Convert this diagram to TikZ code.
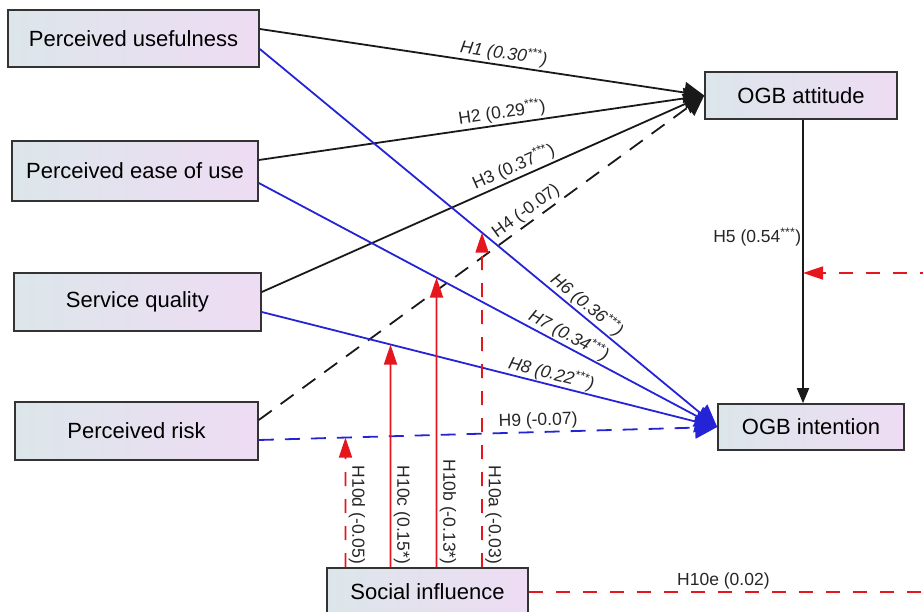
\documentclass[tikz,border=0pt]{standalone}
\usepackage{fontspec}
\setmainfont{Liberation Sans}
\usetikzlibrary{arrows.meta,calc}

\definecolor{pathblue}{HTML}{2424D6}
\definecolor{pathred}{HTML}{E5161D}
\definecolor{boxleft}{HTML}{DCE6EA}
\definecolor{boxright}{HTML}{EEDCF4}
\definecolor{boxline}{HTML}{333333}

\begin{document}
\begin{tikzpicture}[x=1pt,y=-1pt,
  construct/.style={draw=boxline, line width=1.6pt, left color=boxleft, right color=boxright,
    font=\fontsize{22}{26}\selectfont, inner sep=0pt},
  lbl/.style={font=\fontsize{17.5}{20}\selectfont, inner sep=2pt, text=black!85},
  lbli/.style={lbl, font=\fontsize{17.5}{20}\selectfont\itshape},
  vlbl/.style={lbl, rotate=-90, anchor=south, inner sep=3pt},
  blackpath/.style={draw=black!90, line width=1.8pt, -{Triangle[length=20pt,width=21pt]}},
  bluepath/.style={draw=pathblue, line width=1.8pt, -{Triangle[length=22pt,width=22pt]}},
  redpath/.style={draw=pathred, line width=1.8pt, -{Triangle[length=20pt,width=13pt]}},
  nsdash/.style={dash pattern=on 16pt off 11pt},
  bluedash/.style={dash pattern=on 15pt off 11pt},
  reddash/.style={dash pattern=on 14pt off 13pt}]

\useasboundingbox (0,0) rectangle (923,612);
\clip (0,0) rectangle (923,612);

% constructs
\node[construct, minimum width=251pt, minimum height=57pt] (pu)  at (133.5,38.5) {Perceived usefulness};
\node[construct, minimum width=246pt, minimum height=60pt] (peu) at (135,171)    {Perceived ease of use};
\node[construct, minimum width=247pt, minimum height=58pt] (sq)  at (137.5,302)  {Service quality};
\node[construct, minimum width=243pt, minimum height=58pt] (pr)  at (136.5,431)  {Perceived risk};
\node[construct, minimum width=192pt, minimum height=47pt] (att) at (801,95.5)   {OGB attitude};
\node[construct, minimum width=186pt, minimum height=46pt] (int) at (811,427)    {OGB intention};
\node[construct, minimum width=201pt, minimum height=48pt] (si)  at (427.5,592)  {Social influence};

% connector ends on the constructs
\coordinate (pu1)  at ($(pu.east)+(0,-9.5)$);
\coordinate (pu2)  at ($(pu.east)+(0,10.5)$);
\coordinate (peu1) at ($(peu.east)+(0,-11)$);
\coordinate (peu2) at ($(peu.east)+(0,12)$);
\coordinate (sq1)  at ($(sq.east)+(0,-10)$);
\coordinate (sq2)  at ($(sq.east)+(0,10)$);
\coordinate (pr1)  at ($(pr.east)+(0,-11)$);
\coordinate (pr2)  at ($(pr.east)+(0,9)$);
\coordinate (aw)   at (att.west);
\coordinate (iw)   at (int.west);
\coordinate (h5t)  at ([xshift=2pt]att.south);
\coordinate (h5b)  at (h5t |- int.north);

% paths to OGB attitude
\draw[blackpath] (pu1) -- node[lbli, sloped, above, pos=0.545] (l1) {H1 (0.30\textsuperscript{***})} (aw);
\draw[blackpath] (peu1) -- node[lbl, sloped, above, pos=0.55] (l2) {H2 (0.29\textsuperscript{***})} (aw);
\draw[blackpath] (sq1) -- node[lbl, sloped, above, pos=0.58] (l3) {H3 (0.37\textsuperscript{***})} (aw);
\draw[blackpath, nsdash] (pr1) -- node[lbl, sloped, above, pos=0.615] (l4) {H4 (-0.07)} (aw);

% attitude to intention
\draw[draw=black!90, line width=1.8pt, -{Triangle[length=15pt,width=12pt]}] (h5t) --
  node[lbl, left, pos=0.414, inner sep=1pt] (l5) {H5 (0.54\textsuperscript{***})} (h5b);

% paths to OGB intention
\draw[bluepath] (pu2) -- node[lbli, sloped, above, pos=0.70, inner sep=1pt] (l6) {H6 (0.36\textsuperscript{***})} (iw);
\draw[bluepath] (peu2) -- node[lbli, sloped, above, pos=0.665, inner sep=1pt] (l7) {H7 (0.34\textsuperscript{***})} (iw);
\draw[bluepath] (sq2) -- node[lbli, sloped, above, pos=0.63, inner sep=1pt] (l8) {H8 (0.22\textsuperscript{***})} (iw);
\draw[bluepath, bluedash] (pr2) -- node[lbl, sloped, above, pos=0.61] (l9) {H9 (-0.07)} (iw);

% moderating effects of social influence
\coordinate (xa) at (482,0);
\coordinate (xb) at (436.5,0);
\coordinate (xc) at (390.5,0);
\coordinate (xd) at (345.5,0);
\coordinate (ylab) at (0,515);
\coordinate (ba) at (si.north -| xa);
\coordinate (bb) at (si.north -| xb);
\coordinate (bc) at (si.north -| xc);
\coordinate (bd) at (si.north -| xd);

\draw[redpath, reddash] (ba) -- (intersection of pu2--iw and ba--xa);
\draw[redpath] (bb) -- (intersection of peu2--iw and bb--xb);
\draw[redpath] (bc) -- (intersection of sq2--iw and bc--xc);
\draw[redpath, reddash] (bd) -- (intersection of pr2--iw and bd--xd);

\node[vlbl] (l10a) at (xa |- ylab) {H10a (-0.03)};
\node[vlbl] (l10b) at ([yshift=3pt]xb |- ylab) {H10b (-0.13*)};
\node[vlbl] (l10c) at (xc |- ylab) {H10c (0.15*)};
\node[vlbl] (l10d) at (xd |- ylab) {H10d (-0.05)};

% social influence on the attitude-intention path
\coordinate (far1) at (950,0);
\coordinate (y10e) at (0,273);
\draw[redpath, reddash] (si.east) --
  node[lbl, above, pos=0.462] (l10e) {H10e (0.02)} (si.east -| far1) -- (far1 |- y10e) -- (h5t |- y10e);

\end{tikzpicture}
\end{document}
